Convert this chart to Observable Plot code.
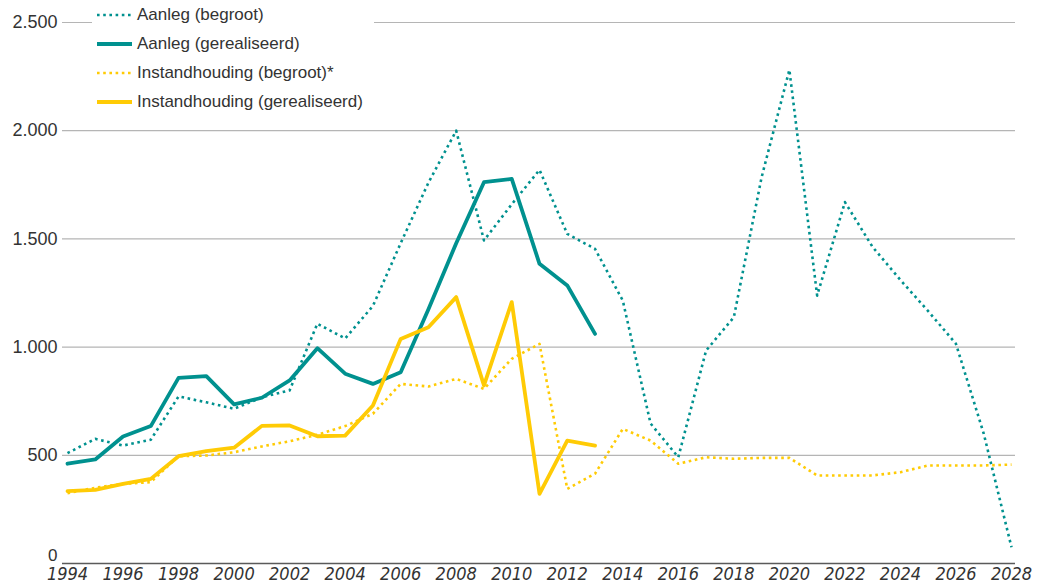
<!DOCTYPE html>
<html>
<head>
<meta charset="utf-8">
<script src="https://cdn.jsdelivr.net/npm/d3@7"></script>
<script src="https://cdn.jsdelivr.net/npm/@observablehq/plot@0.6"></script>
<style>
  body { margin: 0; background: #fff; }
  #wrap { position: relative; width: 1041px; height: 587px; font-family: "Liberation Sans", Arial, sans-serif; }
  #legend { position: absolute; left: 92px; top: 0; width: 282px; height: 116px; background: #fff; }
  .row { position: absolute; left: 0; height: 20px; display: flex; align-items: center; font-size: 17px; color: #333; white-space: nowrap; }
  .row svg { margin-left: 5px; margin-right: 5px; }
</style>
</head>
<body>
<div id="wrap">
  <div id="chart"></div>
  <div id="legend"></div>
</div>
<script>
// ---- Data (bedragen in mln euro) ----
const yearsAll = [1994,1995,1996,1997,1998,1999,2000,2001,2002,2003,2004,2005,2006,2007,2008,2009,2010,2011,
  2012,2013,2014,2015,2016,2017,2018,2019,2020,2021,2022,2023,2024,2025,2026,2027,2028];
const yearsRealised = [1994,1995,1996,1997,1998,1999,2000,2001,2002,2003,2004,2005,2006,2007,2008,2009,2010,2011,2012,2013];

const aanlegBegroot = [510, 576, 545, 572, 772, 745, 715, 768, 800, 1108, 1040, 1190, 1480, 1760, 2000, 1493, 1660, 1819,
  1523, 1454, 1215, 647, 491, 984, 1138, 1785, 2281, 1238, 1670, 1462, 1310, 1166, 1015, 600, 75];
const aanlegGerealiseerd = [461, 481, 587, 635, 858, 866, 735, 766, 846, 995, 877, 830, 884, 1175, 1480, 1762, 1777, 1385, 1285, 1061];
const instandBegroot = [325, 350, 368, 376, 496, 499, 514, 541, 565, 595, 635, 692, 830, 818, 853, 807, 946, 1015,
  345, 415, 622, 568, 461, 491, 484, 488, 488, 407, 407, 407, 422, 453, 453, 453, 457];
const instandGerealiseerd = [334, 340, 368, 391, 496, 519, 535, 636, 638, 588, 591, 730, 1038, 1092, 1231, 823, 1208, 322, 568, 545];

const seriesNames = ["Aanleg (begroot)", "Aanleg (gerealiseerd)", "Instandhouding (begroot)*", "Instandhouding (gerealiseerd)"];
const yTicks = [0, 500, 1000, 1500, 2000, 2500];
const xTicks = [1994,1996,1998,2000,2002,2004,2006,2008,2010,2012,2014,2016,2018,2020,2022,2024,2026,2028];

const TEAL = "#00918f";
const YELLOW = "#ffcb05";

const styles = [
  {stroke: TEAL, strokeWidth: 2.6, dash: "2.6 3.6"},
  {stroke: TEAL, strokeWidth: 3.8, dash: null},
  {stroke: YELLOW, strokeWidth: 2.6, dash: "2.6 3.6"},
  {stroke: YELLOW, strokeWidth: 3.8, dash: null}
];

const toRows = (years, vals, name) => years.map((y, i) => ({year: y, value: vals[i], series: name}));
const data = [
  toRows(yearsAll, aanlegBegroot, seriesNames[0]),
  toRows(yearsRealised, aanlegGerealiseerd, seriesNames[1]),
  toRows(yearsAll, instandBegroot, seriesNames[2]),
  toRows(yearsRealised, instandGerealiseerd, seriesNames[3])
];

const fmt = d => d3.format(",")(d).replace(/,/g, ".");

const lineMarks = data.map((rows, i) => Plot.line(rows, {
  x: "year", y: "value",
  stroke: styles[i].stroke,
  strokeWidth: styles[i].strokeWidth,
  strokeDasharray: styles[i].dash,
  strokeLinejoin: "round",
  strokeLinecap: styles[i].dash ? "butt" : "round"
}));

// draw order: dotted lines under solid ones
const order = [0, 2, 1, 3];

const chart = Plot.plot({
  width: 1041,
  height: 587,
  marginLeft: 62,
  marginRight: 26,
  marginTop: 22,
  marginBottom: 24,
  style: {fontFamily: "'Liberation Sans', Arial, sans-serif", fontSize: "18px", color: "#333", background: "#fff"},
  x: {domain: [1994, 2028], range: [67, 1011]},
  y: {domain: [0, 2500]},
  marks: [
    Plot.ruleY(yTicks.filter(d => d > 0), {stroke: "#b5b5b5", strokeWidth: 1.2}),
    Plot.ruleY([0], {stroke: "#5a5a5a", strokeWidth: 1.5}),
    Plot.axisY({ticks: yTicks.filter(d => d > 0), tickSize: 0, tickPadding: 5, tickFormat: fmt, fontSize: 18, fill: "#333", label: null}),
    Plot.axisY({ticks: [0], tickSize: 0, tickPadding: 5, tickFormat: fmt, fontSize: 17, fill: "#333", label: null, dy: -8}),
    Plot.axisX({ticks: xTicks, tickSize: 0, tickPadding: 4, tickFormat: d => String(d), fontSize: 18,
      fontStyle: "italic", fontFamily: "'Liberation Sans Narrow', 'DejaVu Sans Condensed', sans-serif", fill: "#333", label: null}),
    ...order.map(i => lineMarks[i])
  ]
});
document.getElementById("chart").appendChild(chart);

// legend
const legend = document.getElementById("legend");
const rowCenters = [15, 44, 73, 102];
seriesNames.forEach((name, i) => {
  const row = document.createElement("div");
  row.className = "row";
  row.style.top = (rowCenters[i] - 10) + "px";
  const s = styles[i];
  row.innerHTML = `<svg width="35" height="10"><line x1="0" x2="35" y1="5" y2="5" stroke="${s.stroke}" stroke-width="${s.strokeWidth}" ${s.dash ? `stroke-dasharray="${s.dash}"` : 'stroke-linecap="round"'}/></svg><span>${name}</span>`;
  legend.appendChild(row);
});
</script>
</body>
</html>
